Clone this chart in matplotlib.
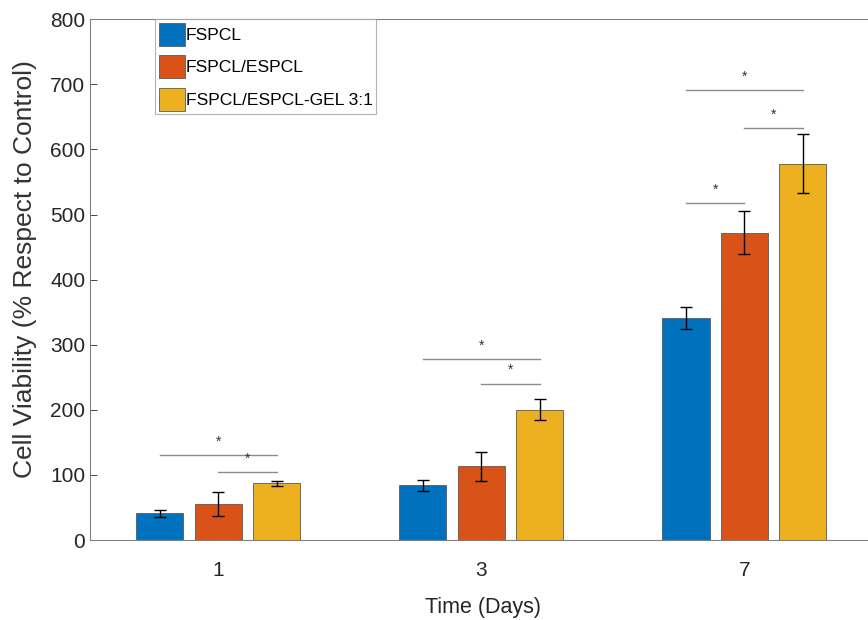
import matplotlib.pyplot as plt
import numpy as np

days = ["1", "3", "7"]
series_names = ["FSPCL", "FSPCL/ESPCL", "FSPCL/ESPCL-GEL 3:1"]
fspcl = [41, 84, 341]
fspcl_espcl = [55, 113, 472]
fspcl_gel = [87, 200, 578]
fspcl_err = [5, 8, 17]
fspcl_espcl_err = [18, 22, 33]
fspcl_gel_err = [4, 16, 45]

# significance brackets: (group index, bar from, bar to, height)
brackets = [
    (0, 0, 2, 130), (0, 1, 2, 104),
    (1, 0, 2, 278), (1, 1, 2, 240),
    (2, 0, 2, 691), (2, 1, 2, 633), (2, 0, 1, 518),
]

colors = ["#0072BD", "#D95319", "#EDB120"]
plt.rcParams["font.family"] = ["Liberation Sans", "DejaVu Sans"]

fig = plt.figure(figsize=(8.68, 6.2), dpi=100)
ax = fig.add_axes([0.1037, 0.129, 0.9055, 0.840])

x = np.arange(1, len(days) + 1)
offset = 0.222
width = 0.179
values = [fspcl, fspcl_espcl, fspcl_gel]
errors = [fspcl_err, fspcl_espcl_err, fspcl_gel_err]
for i, (vals, errs) in enumerate(zip(values, errors)):
    pos = x + (i - 1) * offset
    ax.bar(pos, vals, width, color=colors[i], edgecolor="#5a5a5a", linewidth=0.6,
           label=series_names[i], zorder=2)
    ax.errorbar(pos, vals, yerr=errs, fmt="none", ecolor="black", elinewidth=1,
                capsize=4, capthick=1, zorder=3)

for g, a, b, h in brackets:
    xa = x[g] + (a - 1) * offset
    xb = x[g] + (b - 1) * offset
    ax.plot([xa, xb], [h, h], color="#8c8c8c", linewidth=1, zorder=2)
    ax.text((xa + xb) / 2, h + 10, "*", ha="center", va="bottom", fontsize=10,
            color="#333333")

ax.set_xlim(0.513, 3.5)
ax.set_ylim(0, 800)
ax.set_xticks(x)
ax.set_xticklabels(days)
ax.set_yticks(np.arange(0, 801, 100))
ax.tick_params(direction="in", length=5, colors="#262626", labelsize=15,
               right=True, top=False, width=0.6)
ax.tick_params(axis="x", length=0, pad=15)
for s in ax.spines.values():
    s.set_color("#808080")
    s.set_linewidth(0.8)
ax.set_xlabel("Time (Days)", fontsize=15.5, color="#262626", labelpad=12)
ax.set_ylabel("Cell Viability (% Respect to Control)", fontsize=19,
              color="#333333")
ax.yaxis.set_label_coords(-0.068, 0.52)

leg = ax.legend(loc="upper left", bbox_to_anchor=(0.0827, 1.0), fontsize=12.6,
                frameon=True, fancybox=False, handlelength=1.5, handleheight=1.64,
                handletextpad=0.05, labelspacing=0.55, borderpad=0.2,
                borderaxespad=0)
leg.get_frame().set_edgecolor("#a0a0a0")
leg.get_frame().set_linewidth(0.8)

fig.savefig("out.png", dpi=100)
